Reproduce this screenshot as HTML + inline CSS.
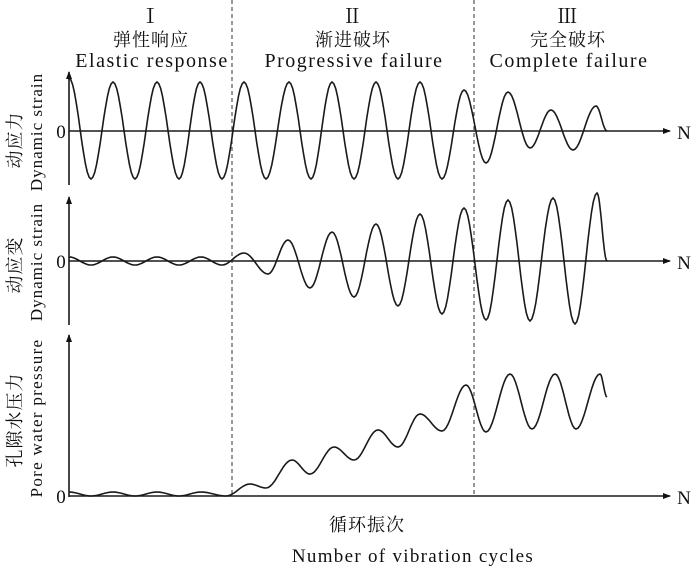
<!DOCTYPE html>
<html><head><meta charset="utf-8"><style>
html,body{margin:0;padding:0;background:#fff;}
svg{display:block;}
text{font-family:"Liberation Serif","Noto Serif CJK SC",serif;fill:#111;}
.cj{font-family:"Liberation Serif","Noto Serif CJK SC",serif;}
</style></head><body>
<svg id="s" width="700" height="569" viewBox="0 0 700 569" xmlns="http://www.w3.org/2000/svg">
<defs><marker id="a" markerWidth="8" markerHeight="6" refX="7" refY="3" orient="auto" markerUnits="userSpaceOnUse"><path d="M0,0 L8,3 L0,6 Z" fill="#111"/></marker></defs>
<g stroke="#444" stroke-width="1.1" stroke-dasharray="4,3">
<line x1="232" y1="0" x2="232" y2="497"/>
<line x1="474" y1="0" x2="474" y2="497"/>
</g>
<g stroke="#1a1a1a" stroke-width="1.6" fill="none">
<line x1="69" y1="185" x2="69" y2="72" marker-end="url(#a)"/>
<line x1="69" y1="131" x2="670" y2="131" marker-end="url(#a)"/>
<line x1="69" y1="325" x2="69" y2="197" marker-end="url(#a)"/>
<line x1="69" y1="261" x2="670" y2="261" marker-end="url(#a)"/>
<line x1="69" y1="497" x2="69" y2="335" marker-end="url(#a)"/>
<line x1="69" y1="496" x2="670" y2="496" marker-end="url(#a)"/>
<path id="p1"/><path id="p2"/><path id="p3"/>
</g>
<g font-size="20" text-anchor="middle" letter-spacing="1.5">
<text x="151" y="23">Ⅰ</text><text x="151" y="46" class="cj" font-size="18" letter-spacing="1">弹性响应</text><text x="152" y="67">Elastic response</text>
<text x="353" y="23">Ⅱ</text><text x="353" y="46" class="cj" font-size="18" letter-spacing="1">渐进破坏</text><text x="354" y="67">Progressive failure</text>
<text x="568" y="23">Ⅲ</text><text x="568" y="46" class="cj" font-size="18" letter-spacing="1">完全破坏</text><text x="569" y="67">Complete failure</text>
</g>
<g font-size="19" text-anchor="middle">
<text x="61" y="138">0</text><text x="61" y="268">0</text><text x="61" y="503">0</text>
<text x="684" y="139">N</text><text x="684" y="269">N</text><text x="684" y="504">N</text>
<text x="367" y="531" class="cj" font-size="18" letter-spacing="1">循环振次</text>
<text x="413" y="562" font-size="19" letter-spacing="1.3">Number of vibration cycles</text>
</g>
<g font-size="18" text-anchor="middle">
<text transform="translate(21,140) rotate(-90)" class="cj" letter-spacing="1">动应力</text>
<text transform="translate(42,132) rotate(-90)" font-size="17" letter-spacing="1">Dynamic strain</text>
<text transform="translate(21,265) rotate(-90)" class="cj" letter-spacing="1">动应变</text>
<text transform="translate(42,262) rotate(-90)" font-size="17" letter-spacing="1">Dynamic strain</text>
<text transform="translate(21,420) rotate(-90)" class="cj" letter-spacing="1">孔隙水压力</text>
<text transform="translate(42,418) rotate(-90)" font-size="17" letter-spacing="1.3">Pore water pressure</text>
</g>
</svg>
<script>
function build(pts){
 var d="M"+pts[0][0]+","+pts[0][1];
 for(var i=1;i<pts.length;i++){
  var a=pts[i-1],b=pts[i];
  for(var k=1;k<=12;k++){var t=k/12;var f=(1-Math.cos(Math.PI*t))/2;
   d+=" L"+(a[0]+(b[0]-a[0])*t).toFixed(1)+","+(a[1]+(b[1]-a[1])*f).toFixed(1);}
 }
 return d;
}
var p1=[[69,78],[91,179],[113,82],[135,179],[157,82],[179,179],[200,82],[222,179],[244,82],[266,179],[289,82],[311,179],[332,82],[354,179],[376,82],[398,179],[420,82],[442,179],[464,90],[486,163],[508,92],[530,148],[551,110],[573,150],[596,106],[607,131]];
var p2=[[69,257],[91,265],[113,257],[135,265],[157,257],[179,265],[201,257],[222,265],[244,253],[268,274],[288,240],[310,288],[332,232],[354,297],[376,224],[398,306],[420,214],[442,314],[464,208],[486,320],[508,200],[530,321],[553,198],[575,324],[597,193],[607,261]];
var p3=[[69,492],[91,496],[113,492],[135,496],[157,492],[179,496],[201,492],[226,496],[250,484],[266,488],[292,460],[310,474],[334,447],[354,460],[378,430],[398,447],[420,414],[442,431],[466,385],[486,432],[510,374],[532,429],[555,374],[576,429],[600,374],[607,397]];
document.getElementById("p1").setAttribute("d",build(p1));
document.getElementById("p2").setAttribute("d",build(p2));
document.getElementById("p3").setAttribute("d",build(p3));
</script>
</body></html>
